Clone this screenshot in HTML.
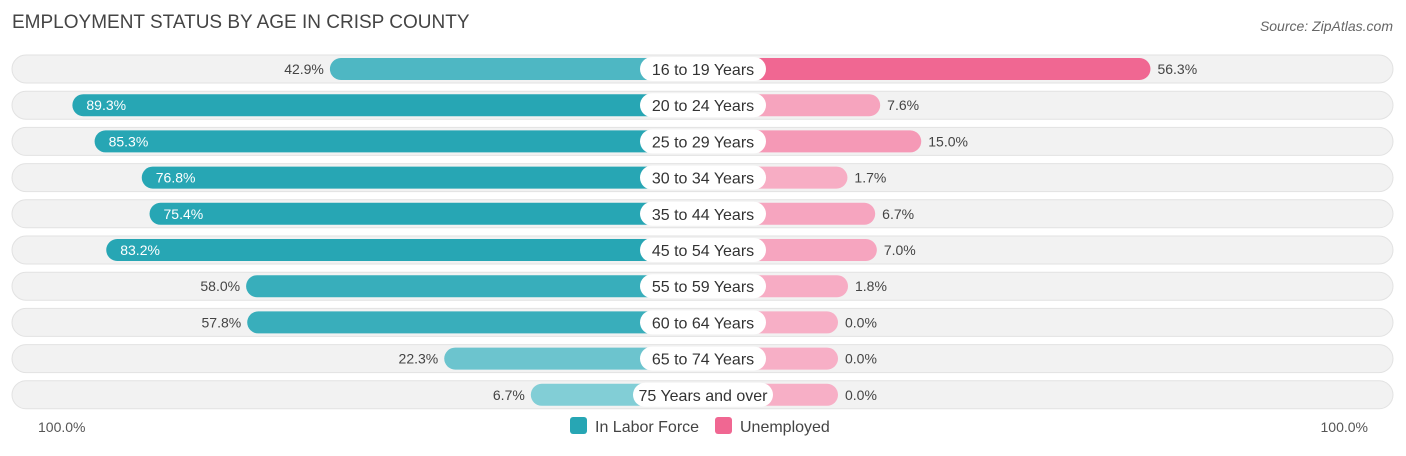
<!DOCTYPE html>
<html><head><meta charset="utf-8"><style>
body{margin:0;background:#fff;font-family:"Liberation Sans",sans-serif;}
</style></head><body>
<svg id="c" width="1406" height="451" xmlns="http://www.w3.org/2000/svg">
<text x="12" y="28" font-size="19" fill="#444">EMPLOYMENT STATUS BY AGE IN CRISP COUNTY</text>
<text x="1393" y="31" font-size="14" fill="#666" font-style="italic" text-anchor="end">Source: ZipAtlas.com</text>
<g id="rows"></g>
<text x="38" y="432" font-size="14" fill="#555">100.0%</text>
<text x="1368" y="432" font-size="14" fill="#555" text-anchor="end">100.0%</text>
<g>
<rect x="570" y="417" width="17" height="17" rx="3" fill="#27a6b4"/>
<text x="595" y="432" font-size="16" fill="#444">In Labor Force</text>
<rect x="715" y="417" width="17" height="17" rx="3" fill="#f06792"/>
<text x="740" y="432" font-size="16" fill="#444">Unemployed</text>
</g>
</svg>
<script>
const categories=["16 to 19 Years","20 to 24 Years","25 to 29 Years","30 to 34 Years","35 to 44 Years","45 to 54 Years","55 to 59 Years","60 to 64 Years","65 to 74 Years","75 Years and over"];
const laborForce=[42.9,89.3,85.3,76.8,75.4,83.2,58.0,57.8,22.3,6.7];
const unemployed=[56.3,7.6,15.0,1.7,6.7,7.0,1.8,0.0,0.0,0.0];
const NS="http://www.w3.org/2000/svg";
const g=document.getElementById('rows');
const cx=703, a=135, b=5.55;
function ext(v){return a+b*v;}
function mix(c1,c2,t){return 'rgb('+c1.map((x,i)=>Math.round(x+(c2[i]-x)*t)).join(',')+')';}
function mk(tag,attrs){const e=document.createElementNS(NS,tag);for(const k in attrs)e.setAttribute(k,attrs[k]);g.appendChild(e);return e;}
categories.forEach((cat,i)=>{
  const y=69+i*36.2;
  const bg=mk('rect',{x:12,y:y-14,width:1381,height:28,rx:14,fill:'#f2f2f2',stroke:'#e2e2e2'});
  
  
  const lv=laborForce[i], lw=ext(lv);
  const lb=mk('rect',{x:cx-lw,y:y-11,width:lw,height:22,rx:11,fill:mix([140,210,218],[39,166,180],Math.min(1,lv/70))});
  
  
  const inside=lv>=65;
  const lt=mk('text',{x:inside?cx-lw+14:cx-lw-6,y:y+5,'font-size':14,fill:inside?'#fff':'#444','text-anchor':inside?'start':'end'});
  lt.textContent=lv.toFixed(1)+'%';
  
  
  const uv=unemployed[i], uw=ext(uv);
  const ub=mk('rect',{x:cx,y:y-11,width:uw,height:22,rx:11,fill:mix([247,175,198],[240,103,146],Math.min(1,uv/50))});
  
  
  const ut=mk('text',{x:cx+uw+7,y:y+5,'font-size':14,fill:'#444'});
  ut.textContent=uv.toFixed(1)+'%';
  
  
  const pw=cat.length>14?140:126;
  const pill=mk('rect',{x:cx-pw/2,y:y-12,width:pw,height:24,rx:12,fill:'#fff'});
  
  
  const ct=mk('text',{x:cx,y:y+6,'font-size':16,fill:'#333','text-anchor':'middle'});
  ct.textContent=cat;
  
  
});
</script>
</body></html>
